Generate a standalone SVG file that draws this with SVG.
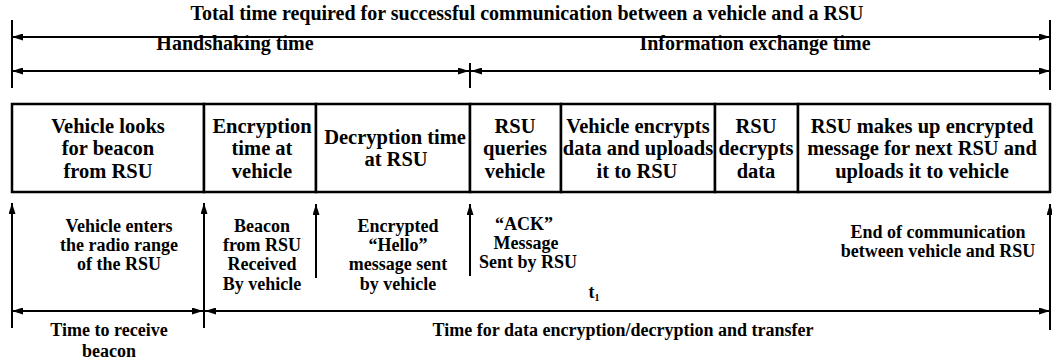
<svg xmlns="http://www.w3.org/2000/svg" width="1052" height="363" viewBox="0 0 1052 363">
<style>
text{fill:#000;text-anchor:middle}
.t{font-size:20px}
.b{font-size:20.5px}
.l{font-size:18px}
.ln{stroke:#000;stroke-width:2;fill:none}
.bx{stroke:#000;stroke-width:2.5;fill:#fff}
</style>
<defs>
<marker id="ah" viewBox="0 0 11 7" refX="11" refY="3.5" markerWidth="11" markerHeight="7" markerUnits="userSpaceOnUse" orient="auto-start-reverse">
<path d="M0,0 L11,3.5 L0,7 z" fill="#000"/>
</marker>
</defs>
<rect width="1052" height="363" fill="#fff"/>
<g id="connectors">
<line class="ln" x1="12" y1="20" x2="12" y2="88"/>
<line class="ln" x1="1050" y1="20" x2="1050" y2="90"/>
<line class="ln" x1="470" y1="63" x2="470" y2="88"/>
<line class="ln" x1="12" y1="37" x2="1050" y2="37" marker-start="url(#ah)" marker-end="url(#ah)"/>
<line class="ln" x1="12" y1="71" x2="469" y2="71" marker-start="url(#ah)" marker-end="url(#ah)"/>
<line class="ln" x1="471" y1="71" x2="1050" y2="71" marker-start="url(#ah)" marker-end="url(#ah)"/>
<line class="ln" x1="12" y1="328" x2="12" y2="203" marker-end="url(#ah)"/>
<line class="ln" x1="204" y1="328" x2="204" y2="203" marker-end="url(#ah)"/>
<line class="ln" x1="316" y1="278" x2="316" y2="204" marker-end="url(#ah)"/>
<line class="ln" x1="470" y1="276" x2="470" y2="204" marker-end="url(#ah)"/>
<line class="ln" x1="1050" y1="330" x2="1050" y2="204" marker-end="url(#ah)"/>
<line class="ln" x1="12" y1="311" x2="203" y2="311" marker-start="url(#ah)" marker-end="url(#ah)"/>
<line class="ln" x1="205" y1="311" x2="1050" y2="311" marker-start="url(#ah)" marker-end="url(#ah)"/>
</g>
<g font-family="Liberation Serif" font-weight="bold">
<g id="top-labels">
<text class="t" x="527" y="20">Total time required for successful communication between a vehicle and a RSU</text>
<text class="t" x="235" y="50">Handshaking time</text>
<text class="t" x="755" y="50">Information exchange time</text>
</g>
<g id="box1"><rect class="bx" x="12" y="104" width="192" height="88"/>
<text class="b" x="108" y="133">Vehicle looks</text><text class="b" x="108" y="155">for beacon</text><text class="b" x="108" y="178">from RSU</text></g>
<g id="box2"><rect class="bx" x="204" y="104" width="112" height="88"/>
<text class="b" x="262" y="133">Encryption</text><text class="b" x="262" y="155">time at</text><text class="b" x="262" y="178">vehicle</text></g>
<g id="box3"><rect class="bx" x="316" y="104" width="154" height="88"/>
<text class="b" x="395" y="144">Decryption time</text><text class="b" x="396" y="166">at RSU</text></g>
<g id="box4"><rect class="bx" x="470" y="104" width="91" height="88"/>
<text class="b" x="515" y="133">RSU</text><text class="b" x="515" y="155">queries</text><text class="b" x="515" y="178">vehicle</text></g>
<g id="box5"><rect class="bx" x="561" y="104" width="154" height="88"/>
<text class="b" x="638" y="133">Vehicle encrypts</text><text class="b" x="638" y="155">data and uploads</text><text class="b" x="637" y="178">it to RSU</text></g>
<g id="box6"><rect class="bx" x="715" y="104" width="83" height="88"/>
<text class="b" x="756" y="133">RSU</text><text class="b" x="756" y="155">decrypts</text><text class="b" x="756" y="178">data</text></g>
<g id="box7"><rect class="bx" x="798" y="104" width="252" height="88"/>
<text class="b" x="922" y="133">RSU makes up encrypted</text><text class="b" x="922" y="155">message for next RSU and</text><text class="b" x="922" y="178">uploads it to vehicle</text></g>
<g id="event1"><text class="l" x="119" y="232">Vehicle enters</text><text class="l" x="119" y="251">the radio range</text><text class="l" x="119" y="270">of the RSU</text></g>
<g id="event2"><text class="l" x="262" y="232">Beacon</text><text class="l" x="262" y="251">from RSU</text><text class="l" x="262" y="270">Received</text><text class="l" x="262" y="290">By vehicle</text></g>
<g id="event3"><text class="l" x="398" y="232">Encrypted</text><text class="l" x="398" y="251">“Hello”</text><text class="l" x="398" y="270">message sent</text><text class="l" x="398" y="290">by vehicle</text></g>
<g id="event4"><text class="l" x="524" y="230">“ACK”</text><text class="l" x="526" y="249">Message</text><text class="l" x="528" y="268">Sent by RSU</text></g>
<g id="event5"><text class="l" x="938" y="238">End of communication</text><text class="l" x="938" y="257">between vehicle and RSU</text></g>
<g id="t1"><text class="l" x="594" y="298">t<tspan font-size="10" dy="3">1</tspan></text></g>
<g id="bottom-labels">
<text class="l" x="109" y="336">Time to receive</text><text class="l" x="109" y="357">beacon</text>
<text class="l" x="623" y="336">Time for data encryption/decryption and transfer</text>
</g>
</g>
</svg>
